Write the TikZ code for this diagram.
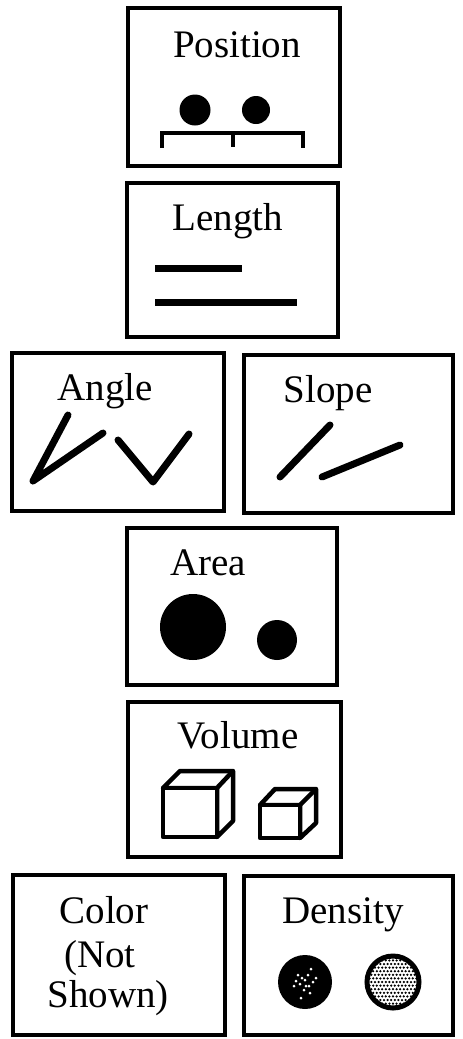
\documentclass[tikz,border=0pt]{standalone}
\usepackage{fontspec}
\setmainfont{Liberation Serif}
\begin{document}
\begin{tikzpicture}[x=1pt,y=-1pt,
  panel/.style={draw=black,line width=4pt},
  lbl/.style={anchor=base,inner sep=0pt,font=\fontsize{39}{42}\selectfont},
  glyph/.style={line width=7pt,line cap=round,line join=round},
  blob/.style={fill=black},
  cube/.style={draw=black,line width=4.5pt,line join=round,fill=white}]
\useasboundingbox (0,0) rectangle (463,1039);
% panels
\draw[panel] (128,8) rectangle (340,166);
\draw[panel] (127,183) rectangle (338,337);
\draw[panel] (12,353) rectangle (224,511);
\draw[panel] (244,355) rectangle (453,513);
\draw[panel] (127,528) rectangle (337,685);
\draw[panel] (128,702) rectangle (341,857);
\draw[panel] (13,875) rectangle (225,1035);
\draw[panel] (244,876) rectangle (453,1035);
% labels
\node[lbl] (tpos) at (237,57) {Position};
\node[lbl] (tlen) at (228,230) {Length};
\node[lbl] (tang) at (105,400) {Angle};
\node[lbl] (tslo) at (328,402) {Slope};
\node[lbl] (tare) at (208,575) {Area};
\node[lbl] (tvol) at (238,748) {Volume};
\node[lbl] (tcol1) at (104,923) {Color};
\node[lbl] (tcol2) at (100,967) {(Not};
\node[lbl] (tcol3) at (108,1007) {Shown)};
\node[lbl] (tden) at (343,923) {Density};
% position
\fill[blob] (195,110) circle (15.5);
\fill[blob] (256,110) circle (14);
\draw[line width=4.5pt,line join=miter] (162,148) -- (162,133) -- (303,133) -- (303,148);
\draw[line width=4.5pt] (233,133) -- (233,147);
% length
\draw[line width=7pt] (155,268) -- (242,268);
\draw[line width=7pt] (155,302) -- (297,302);
% angle
\draw[glyph] (68,415) -- (33,481) -- (103,433);
\draw[glyph] (118,440) -- (153,482) -- (189,434);
% slope
\draw[glyph] (280,477) -- (330,425);
\draw[glyph] (322,477) -- (400,445);
% area
\fill[blob] (193,627) circle (33);
\fill[blob] (277,640) circle (20);
% volume cubes
\draw[cube] (163,788) -- (180,771) -- (233,771) -- (233,821) -- (217,837) -- (217,788) -- cycle;
\draw[cube] (163,788) rectangle (217,837);
\draw[cube] (217,788) -- (233,771);
\draw[cube] (260,805) -- (275,789) -- (316,789) -- (316,823) -- (300,838) -- (300,805) -- cycle;
\draw[cube] (260,805) rectangle (300,838);
\draw[cube] (300,805) -- (316,789);
% density
\fill[black] (305,982) circle (27);
\foreach \p in {(298,975),(302,978),(296,981),(300,984),(305,980),(308,975),(311,969),(309,986),(313,982),(304,990),(310,993),(301,998),(316,978),(306,986),(294,986)}
  \fill[white] \p circle (1.5);
\fill[white] (393,982) circle (26);
\begin{scope}
  \clip (393,982) circle (25);
  \foreach \i in {-7,...,7}
    \foreach \j in {-7,...,7}
      \fill[black] ({393+3.6*\i+1.8*mod(abs(\j),2)},{982+3.6*\j}) circle (1.25);
\end{scope}
\draw[black,line width=5pt] (393,982) circle (26);
\end{tikzpicture}
\end{document}
